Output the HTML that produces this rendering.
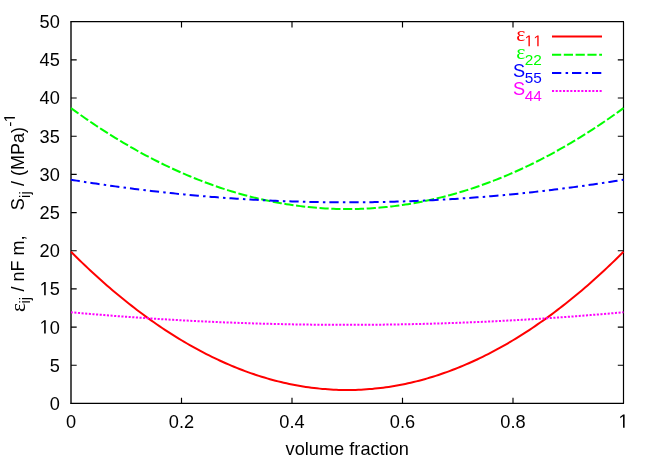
<!DOCTYPE html>
<html><head><meta charset="utf-8"><title>plot</title>
<style>
html,body{margin:0;padding:0;background:#fff;}
svg{display:block;will-change:transform;}
text{font-family:"Liberation Sans",sans-serif;font-size:18.2px;fill:#000;font-kerning:none;font-variant-ligatures:none;white-space:pre;}
.sym{font-family:"Liberation Serif",serif;font-size:20.5px;}
.sub{font-size:15.4px;}
</style></head><body>
<svg width="654" height="458" viewBox="0 0 654 458">
<rect width="654" height="458" fill="#fff"/>
<g fill="none" stroke="#000" stroke-width="1.15">
<path d="M71.0,21.7V403.4" stroke-width="1.38" stroke-linecap="round"/><path d="M623.5,21.7V403.4" stroke-width="1.18" stroke-linecap="round"/><path d="M71.0,21.7H623.5M71.0,403.4H623.5" stroke-width="1.18" stroke-linecap="round"/>
<path d="M71.00,365.23 h5.70 M623.50,365.23 h-5.70"/><path d="M71.00,327.06 h5.70 M623.50,327.06 h-5.70"/><path d="M71.00,288.89 h5.70 M623.50,288.89 h-5.70"/><path d="M71.00,250.72 h5.70 M623.50,250.72 h-5.70"/><path d="M71.00,212.55 h5.70 M623.50,212.55 h-5.70"/><path d="M71.00,174.38 h5.70 M623.50,174.38 h-5.70"/><path d="M71.00,136.21 h5.70 M623.50,136.21 h-5.70"/><path d="M71.00,98.04 h5.70 M623.50,98.04 h-5.70"/><path d="M71.00,59.87 h5.70 M623.50,59.87 h-5.70"/><path d="M181.50,403.40 v-5.70 M181.50,21.70 v5.70"/><path d="M292.00,403.40 v-5.70 M292.00,21.70 v5.70"/><path d="M402.50,403.40 v-5.70 M402.50,21.70 v5.70"/><path d="M513.00,403.40 v-5.70 M513.00,21.70 v5.70"/>
</g>
<g fill="none" stroke-width="2" stroke-linejoin="round">
<path d="M71.00,251.79 L73.76,254.54 L76.53,257.26 L79.29,259.96 L82.05,262.62 L84.81,265.26 L87.58,267.88 L90.34,270.46 L93.10,273.02 L95.86,275.55 L98.62,278.05 L101.39,280.52 L104.15,282.97 L106.91,285.39 L109.68,287.78 L112.44,290.14 L115.20,292.48 L117.96,294.79 L120.72,297.07 L123.49,299.32 L126.25,301.55 L129.01,303.74 L131.78,305.91 L134.54,308.06 L137.30,310.17 L140.06,312.26 L142.82,314.32 L145.59,316.35 L148.35,318.35 L151.11,320.33 L153.88,322.28 L156.64,324.20 L159.40,326.09 L162.16,327.96 L164.93,329.80 L167.69,331.61 L170.45,333.39 L173.21,335.15 L175.97,336.87 L178.74,338.57 L181.50,340.25 L184.26,341.89 L187.02,343.51 L189.79,345.10 L192.55,346.66 L195.31,348.19 L198.07,349.70 L200.84,351.18 L203.60,352.63 L206.36,354.05 L209.12,355.45 L211.89,356.82 L214.65,358.16 L217.41,359.47 L220.18,360.76 L222.94,362.01 L225.70,363.24 L228.46,364.45 L231.22,365.62 L233.99,366.77 L236.75,367.89 L239.51,368.98 L242.28,370.04 L245.04,371.08 L247.80,372.09 L250.56,373.07 L253.33,374.02 L256.09,374.95 L258.85,375.85 L261.61,376.72 L264.38,377.56 L267.14,378.38 L269.90,379.17 L272.66,379.93 L275.43,380.66 L278.19,381.36 L280.95,382.04 L283.71,382.69 L286.48,383.31 L289.24,383.91 L292.00,384.47 L294.76,385.01 L297.52,385.52 L300.29,386.01 L303.05,386.46 L305.81,386.89 L308.57,387.29 L311.34,387.67 L314.10,388.01 L316.86,388.33 L319.62,388.62 L322.39,388.88 L325.15,389.12 L327.91,389.33 L330.68,389.50 L333.44,389.66 L336.20,389.78 L338.96,389.88 L341.73,389.95 L344.49,389.99 L347.25,390.00 L350.01,389.99 L352.77,389.95 L355.54,389.88 L358.30,389.78 L361.06,389.66 L363.82,389.50 L366.59,389.33 L369.35,389.12 L372.11,388.88 L374.88,388.62 L377.64,388.33 L380.40,388.01 L383.16,387.67 L385.92,387.29 L388.69,386.89 L391.45,386.46 L394.21,386.01 L396.97,385.52 L399.74,385.01 L402.50,384.47 L405.26,383.91 L408.02,383.31 L410.79,382.69 L413.55,382.04 L416.31,381.36 L419.07,380.66 L421.84,379.93 L424.60,379.17 L427.36,378.38 L430.12,377.56 L432.89,376.72 L435.65,375.85 L438.41,374.95 L441.18,374.02 L443.94,373.07 L446.70,372.09 L449.46,371.08 L452.22,370.04 L454.99,368.98 L457.75,367.89 L460.51,366.77 L463.27,365.62 L466.04,364.45 L468.80,363.24 L471.56,362.01 L474.32,360.76 L477.09,359.47 L479.85,358.16 L482.61,356.82 L485.38,355.45 L488.14,354.05 L490.90,352.63 L493.66,351.18 L496.43,349.70 L499.19,348.19 L501.95,346.66 L504.71,345.10 L507.48,343.51 L510.24,341.89 L513.00,340.25 L515.76,338.57 L518.53,336.87 L521.29,335.15 L524.05,333.39 L526.81,331.61 L529.58,329.80 L532.34,327.96 L535.10,326.09 L537.86,324.20 L540.62,322.28 L543.39,320.33 L546.15,318.35 L548.91,316.35 L551.67,314.32 L554.44,312.26 L557.20,310.17 L559.96,308.06 L562.73,305.91 L565.49,303.74 L568.25,301.55 L571.01,299.32 L573.78,297.07 L576.54,294.79 L579.30,292.48 L582.06,290.14 L584.83,287.78 L587.59,285.39 L590.35,282.97 L593.11,280.52 L595.88,278.05 L598.64,275.55 L601.40,273.02 L604.16,270.46 L606.92,267.88 L609.69,265.26 L612.45,262.62 L615.21,259.96 L617.98,257.26 L620.74,254.54 L623.50,251.79" stroke="#ff0000"/>
<path d="M71.00,108.12 L73.76,110.13 L76.53,112.11 L79.29,114.08 L82.05,116.03 L84.81,117.96 L87.58,119.86 L90.34,121.75 L93.10,123.62 L95.86,125.47 L98.62,127.29 L101.39,129.10 L104.15,130.88 L106.91,132.65 L109.68,134.40 L112.44,136.12 L115.20,137.83 L117.96,139.51 L120.72,141.18 L123.49,142.82 L126.25,144.45 L129.01,146.05 L131.78,147.64 L134.54,149.20 L137.30,150.75 L140.06,152.27 L142.82,153.77 L145.59,155.26 L148.35,156.72 L151.11,158.16 L153.88,159.59 L156.64,160.99 L159.40,162.37 L162.16,163.73 L164.93,165.08 L167.69,166.40 L170.45,167.70 L173.21,168.98 L175.97,170.24 L178.74,171.49 L181.50,172.71 L184.26,173.91 L187.02,175.09 L189.79,176.25 L192.55,177.39 L195.31,178.51 L198.07,179.61 L200.84,180.69 L203.60,181.75 L206.36,182.79 L209.12,183.81 L211.89,184.81 L214.65,185.79 L217.41,186.74 L220.18,187.68 L222.94,188.60 L225.70,189.50 L228.46,190.38 L231.22,191.24 L233.99,192.07 L236.75,192.89 L239.51,193.69 L242.28,194.47 L245.04,195.22 L247.80,195.96 L250.56,196.68 L253.33,197.37 L256.09,198.05 L258.85,198.70 L261.61,199.34 L264.38,199.96 L267.14,200.55 L269.90,201.13 L272.66,201.68 L275.43,202.22 L278.19,202.73 L280.95,203.23 L283.71,203.70 L286.48,204.15 L289.24,204.59 L292.00,205.00 L294.76,205.40 L297.52,205.77 L300.29,206.12 L303.05,206.45 L305.81,206.77 L308.57,207.06 L311.34,207.33 L314.10,207.59 L316.86,207.82 L319.62,208.03 L322.39,208.22 L325.15,208.39 L327.91,208.54 L330.68,208.68 L333.44,208.79 L336.20,208.88 L338.96,208.95 L341.73,209.00 L344.49,209.03 L347.25,209.04 L350.01,209.03 L352.77,209.00 L355.54,208.95 L358.30,208.88 L361.06,208.79 L363.82,208.68 L366.59,208.54 L369.35,208.39 L372.11,208.22 L374.88,208.03 L377.64,207.82 L380.40,207.59 L383.16,207.33 L385.92,207.06 L388.69,206.77 L391.45,206.45 L394.21,206.12 L396.97,205.77 L399.74,205.40 L402.50,205.00 L405.26,204.59 L408.02,204.15 L410.79,203.70 L413.55,203.23 L416.31,202.73 L419.07,202.22 L421.84,201.68 L424.60,201.13 L427.36,200.55 L430.12,199.96 L432.89,199.34 L435.65,198.70 L438.41,198.05 L441.18,197.37 L443.94,196.68 L446.70,195.96 L449.46,195.22 L452.22,194.47 L454.99,193.69 L457.75,192.89 L460.51,192.07 L463.27,191.24 L466.04,190.38 L468.80,189.50 L471.56,188.60 L474.32,187.68 L477.09,186.74 L479.85,185.79 L482.61,184.81 L485.38,183.81 L488.14,182.79 L490.90,181.75 L493.66,180.69 L496.43,179.61 L499.19,178.51 L501.95,177.39 L504.71,176.25 L507.48,175.09 L510.24,173.91 L513.00,172.71 L515.76,171.49 L518.53,170.24 L521.29,168.98 L524.05,167.70 L526.81,166.40 L529.58,165.08 L532.34,163.73 L535.10,162.37 L537.86,160.99 L540.62,159.59 L543.39,158.16 L546.15,156.72 L548.91,155.26 L551.67,153.77 L554.44,152.27 L557.20,150.75 L559.96,149.20 L562.73,147.64 L565.49,146.05 L568.25,144.45 L571.01,142.82 L573.78,141.18 L576.54,139.51 L579.30,137.83 L582.06,136.12 L584.83,134.40 L587.59,132.65 L590.35,130.88 L593.11,129.10 L595.88,127.29 L598.64,125.47 L601.40,123.62 L604.16,121.75 L606.92,119.86 L609.69,117.96 L612.45,116.03 L615.21,114.08 L617.98,112.11 L620.74,110.13 L623.50,108.12" stroke="#00ff00" stroke-dasharray="9.2 2.6"/>
<path d="M71.00,179.72 L73.76,180.17 L76.53,180.62 L79.29,181.06 L82.05,181.50 L84.81,181.93 L87.58,182.35 L90.34,182.78 L93.10,183.19 L95.86,183.61 L98.62,184.02 L101.39,184.42 L104.15,184.82 L106.91,185.22 L109.68,185.61 L112.44,185.99 L115.20,186.38 L117.96,186.75 L120.72,187.13 L123.49,187.49 L126.25,187.86 L129.01,188.22 L131.78,188.57 L134.54,188.92 L137.30,189.27 L140.06,189.61 L142.82,189.95 L145.59,190.28 L148.35,190.61 L151.11,190.93 L153.88,191.25 L156.64,191.56 L159.40,191.87 L162.16,192.18 L164.93,192.48 L167.69,192.77 L170.45,193.06 L173.21,193.35 L175.97,193.63 L178.74,193.91 L181.50,194.19 L184.26,194.45 L187.02,194.72 L189.79,194.98 L192.55,195.23 L195.31,195.48 L198.07,195.73 L200.84,195.97 L203.60,196.21 L206.36,196.44 L209.12,196.67 L211.89,196.89 L214.65,197.11 L217.41,197.33 L220.18,197.54 L222.94,197.74 L225.70,197.95 L228.46,198.14 L231.22,198.33 L233.99,198.52 L236.75,198.70 L239.51,198.88 L242.28,199.06 L245.04,199.23 L247.80,199.39 L250.56,199.55 L253.33,199.71 L256.09,199.86 L258.85,200.01 L261.61,200.15 L264.38,200.29 L267.14,200.42 L269.90,200.55 L272.66,200.67 L275.43,200.79 L278.19,200.91 L280.95,201.02 L283.71,201.13 L286.48,201.23 L289.24,201.32 L292.00,201.42 L294.76,201.50 L297.52,201.59 L300.29,201.67 L303.05,201.74 L305.81,201.81 L308.57,201.88 L311.34,201.94 L314.10,202.00 L316.86,202.05 L319.62,202.09 L322.39,202.14 L325.15,202.18 L327.91,202.21 L330.68,202.24 L333.44,202.26 L336.20,202.28 L338.96,202.30 L341.73,202.31 L344.49,202.32 L347.25,202.32 L350.01,202.32 L352.77,202.31 L355.54,202.30 L358.30,202.28 L361.06,202.26 L363.82,202.24 L366.59,202.21 L369.35,202.18 L372.11,202.14 L374.88,202.09 L377.64,202.05 L380.40,202.00 L383.16,201.94 L385.92,201.88 L388.69,201.81 L391.45,201.74 L394.21,201.67 L396.97,201.59 L399.74,201.50 L402.50,201.42 L405.26,201.32 L408.02,201.23 L410.79,201.13 L413.55,201.02 L416.31,200.91 L419.07,200.79 L421.84,200.67 L424.60,200.55 L427.36,200.42 L430.12,200.29 L432.89,200.15 L435.65,200.01 L438.41,199.86 L441.18,199.71 L443.94,199.55 L446.70,199.39 L449.46,199.23 L452.22,199.06 L454.99,198.88 L457.75,198.70 L460.51,198.52 L463.27,198.33 L466.04,198.14 L468.80,197.95 L471.56,197.74 L474.32,197.54 L477.09,197.33 L479.85,197.11 L482.61,196.89 L485.38,196.67 L488.14,196.44 L490.90,196.21 L493.66,195.97 L496.43,195.73 L499.19,195.48 L501.95,195.23 L504.71,194.98 L507.48,194.72 L510.24,194.45 L513.00,194.19 L515.76,193.91 L518.53,193.63 L521.29,193.35 L524.05,193.06 L526.81,192.77 L529.58,192.48 L532.34,192.18 L535.10,191.87 L537.86,191.56 L540.62,191.25 L543.39,190.93 L546.15,190.61 L548.91,190.28 L551.67,189.95 L554.44,189.61 L557.20,189.27 L559.96,188.92 L562.73,188.57 L565.49,188.22 L568.25,187.86 L571.01,187.49 L573.78,187.13 L576.54,186.75 L579.30,186.38 L582.06,185.99 L584.83,185.61 L587.59,185.22 L590.35,184.82 L593.11,184.42 L595.88,184.02 L598.64,183.61 L601.40,183.19 L604.16,182.78 L606.92,182.35 L609.69,181.93 L612.45,181.50 L615.21,181.06 L617.98,180.62 L620.74,180.17 L623.50,179.72" stroke="#0000ff" stroke-dasharray="9.3 4.2 2.5 4" stroke-dashoffset="0.4"/>
<path d="M71.00,312.25 L73.76,312.50 L76.53,312.75 L79.29,312.99 L82.05,313.24 L84.81,313.48 L87.58,313.72 L90.34,313.95 L93.10,314.18 L95.86,314.42 L98.62,314.64 L101.39,314.87 L104.15,315.09 L106.91,315.31 L109.68,315.53 L112.44,315.75 L115.20,315.96 L117.96,316.17 L120.72,316.38 L123.49,316.58 L126.25,316.78 L129.01,316.98 L131.78,317.18 L134.54,317.38 L137.30,317.57 L140.06,317.76 L142.82,317.95 L145.59,318.13 L148.35,318.32 L151.11,318.50 L153.88,318.67 L156.64,318.85 L159.40,319.02 L162.16,319.19 L164.93,319.36 L167.69,319.52 L170.45,319.69 L173.21,319.85 L175.97,320.00 L178.74,320.16 L181.50,320.31 L184.26,320.46 L187.02,320.61 L189.79,320.75 L192.55,320.90 L195.31,321.04 L198.07,321.17 L200.84,321.31 L203.60,321.44 L206.36,321.57 L209.12,321.70 L211.89,321.82 L214.65,321.94 L217.41,322.06 L220.18,322.18 L222.94,322.30 L225.70,322.41 L228.46,322.52 L231.22,322.62 L233.99,322.73 L236.75,322.83 L239.51,322.93 L242.28,323.03 L245.04,323.12 L247.80,323.21 L250.56,323.30 L253.33,323.39 L256.09,323.47 L258.85,323.56 L261.61,323.64 L264.38,323.71 L267.14,323.79 L269.90,323.86 L272.66,323.93 L275.43,323.99 L278.19,324.06 L280.95,324.12 L283.71,324.18 L286.48,324.24 L289.24,324.29 L292.00,324.34 L294.76,324.39 L297.52,324.44 L300.29,324.48 L303.05,324.52 L305.81,324.56 L308.57,324.60 L311.34,324.63 L314.10,324.66 L316.86,324.69 L319.62,324.72 L322.39,324.74 L325.15,324.77 L327.91,324.78 L330.68,324.80 L333.44,324.81 L336.20,324.83 L338.96,324.83 L341.73,324.84 L344.49,324.84 L347.25,324.85 L350.01,324.84 L352.77,324.84 L355.54,324.83 L358.30,324.83 L361.06,324.81 L363.82,324.80 L366.59,324.78 L369.35,324.77 L372.11,324.74 L374.88,324.72 L377.64,324.69 L380.40,324.66 L383.16,324.63 L385.92,324.60 L388.69,324.56 L391.45,324.52 L394.21,324.48 L396.97,324.44 L399.74,324.39 L402.50,324.34 L405.26,324.29 L408.02,324.24 L410.79,324.18 L413.55,324.12 L416.31,324.06 L419.07,323.99 L421.84,323.93 L424.60,323.86 L427.36,323.79 L430.12,323.71 L432.89,323.64 L435.65,323.56 L438.41,323.47 L441.18,323.39 L443.94,323.30 L446.70,323.21 L449.46,323.12 L452.22,323.03 L454.99,322.93 L457.75,322.83 L460.51,322.73 L463.27,322.62 L466.04,322.52 L468.80,322.41 L471.56,322.30 L474.32,322.18 L477.09,322.06 L479.85,321.94 L482.61,321.82 L485.38,321.70 L488.14,321.57 L490.90,321.44 L493.66,321.31 L496.43,321.17 L499.19,321.04 L501.95,320.90 L504.71,320.75 L507.48,320.61 L510.24,320.46 L513.00,320.31 L515.76,320.16 L518.53,320.00 L521.29,319.85 L524.05,319.69 L526.81,319.52 L529.58,319.36 L532.34,319.19 L535.10,319.02 L537.86,318.85 L540.62,318.67 L543.39,318.50 L546.15,318.32 L548.91,318.13 L551.67,317.95 L554.44,317.76 L557.20,317.57 L559.96,317.38 L562.73,317.18 L565.49,316.98 L568.25,316.78 L571.01,316.58 L573.78,316.38 L576.54,316.17 L579.30,315.96 L582.06,315.75 L584.83,315.53 L587.59,315.31 L590.35,315.09 L593.11,314.87 L595.88,314.64 L598.64,314.42 L601.40,314.18 L604.16,313.95 L606.92,313.72 L609.69,313.48 L612.45,313.24 L615.21,312.99 L617.98,312.75 L620.74,312.50 L623.50,312.25" stroke="#ff00ff" stroke-dasharray="2.1 1.533" stroke-dashoffset="0.3"/>
<path d="M552,36.4H602" stroke="#ff0000"/>
<path d="M552,54.7H602" stroke="#00ff00" stroke-dasharray="9.2 2.6"/>
<path d="M552,72.9H602" stroke="#0000ff" stroke-dasharray="9.3 4.3 2.5 3.9"/>
<path d="M552,90.9H602" stroke="#ff00ff" stroke-dasharray="2.1 1.56"/>
</g>
<g><text transform="translate(59.80,409.85) scale(1,1.06)" text-anchor="end">0</text><text transform="translate(59.80,371.68) scale(1,1.06)" text-anchor="end">5</text><text transform="translate(59.80,333.51) scale(1,1.06)" text-anchor="end">0</text><path d="M44.13,333.51 L44.13,321.86 L41.31,324.00 L41.31,322.39 L44.27,320.24 L45.74,320.24 L45.74,333.51Z"/><text transform="translate(59.80,295.34) scale(1,1.06)" text-anchor="end">5</text><path d="M44.13,295.34 L44.13,283.69 L41.31,285.83 L41.31,284.22 L44.27,282.07 L45.74,282.07 L45.74,295.34Z"/><text transform="translate(59.80,257.17) scale(1,1.06)" text-anchor="end">20</text><text transform="translate(59.80,219.00) scale(1,1.06)" text-anchor="end">25</text><text transform="translate(59.80,180.83) scale(1,1.06)" text-anchor="end">30</text><text transform="translate(59.80,142.66) scale(1,1.06)" text-anchor="end">35</text><text transform="translate(59.80,104.49) scale(1,1.06)" text-anchor="end">40</text><text transform="translate(59.80,66.32) scale(1,1.06)" text-anchor="end">45</text><text transform="translate(59.80,28.15) scale(1,1.06)" text-anchor="end">50</text></g>
<g><text transform="translate(71.00,427.80) scale(1,1.06)" text-anchor="middle">0</text><text transform="translate(181.50,427.80) scale(1,1.06)" text-anchor="middle">0.2</text><text transform="translate(292.00,427.80) scale(1,1.06)" text-anchor="middle">0.4</text><text transform="translate(402.50,427.80) scale(1,1.06)" text-anchor="middle">0.6</text><text transform="translate(513.00,427.80) scale(1,1.06)" text-anchor="middle">0.8</text><path d="M623.02,427.80 L623.02,416.15 L620.19,418.29 L620.19,416.68 L623.15,414.53 L624.62,414.53 L624.62,427.80Z"/></g>
<text transform="translate(347.25,455.30) scale(1,1)" text-anchor="middle">volume fraction</text>
<g><path d="M528.47,46.20 L528.47,36.81 L526.08,38.53 L526.08,37.24 L528.59,35.50 L529.83,35.50 L529.83,46.20Z" fill="#ff0000"/><path d="M537.27,46.20 L537.27,36.81 L534.88,38.53 L534.88,37.24 L537.39,35.50 L538.63,35.50 L538.63,46.20Z" fill="#ff0000"/><text transform="translate(520.85,40.90) scale(1.06,1)" text-anchor="middle" class="sym" style="fill:#ff0000">ε</text><text transform="translate(541.90,64.90) scale(1,1.01)" text-anchor="end" class="sub" style="fill:#00ff00">22</text><text transform="translate(520.85,59.10) scale(1.06,1)" text-anchor="middle" class="sym" style="fill:#00ff00">ε</text><text transform="translate(541.90,83.05) scale(1,1.01)" text-anchor="end" class="sub" style="fill:#0000ff">55</text><text transform="translate(525.07,77.25) scale(1,1.06)" text-anchor="end" style="fill:#0000ff">S</text><text transform="translate(541.90,100.95) scale(1,1.01)" text-anchor="end" class="sub" style="fill:#ff00ff">44</text><text transform="translate(525.07,95.25) scale(1,1.06)" text-anchor="end" style="fill:#ff00ff">S</text></g>
<g transform="translate(23.9,311.7) rotate(-90) scale(0.989,1)"><text transform="translate(4.30,0.90) scale(1.06,1)" text-anchor="middle" class="sym">ε</text><text transform="translate(8.21,6.20) scale(1,1)" class="sub">ij</text><text transform="translate(20.50,0.00) scale(1,1.015)">/ nF m,</text><text transform="translate(102.49,0.00) scale(1,1.015)">S</text><text transform="translate(114.98,6.20) scale(1,1)" class="sub">ij</text><text transform="translate(127.22,0.00) scale(1,1.015)">/ (MPa)</text><text transform="translate(187.00,-9.00) scale(1,1)" class="sub">-</text><path d="M195.47,-9.00 L195.47,-18.39 L193.08,-16.67 L193.08,-17.96 L195.59,-19.70 L196.83,-19.70 L196.83,-9.00Z"/></g>
</svg>
</body></html>
